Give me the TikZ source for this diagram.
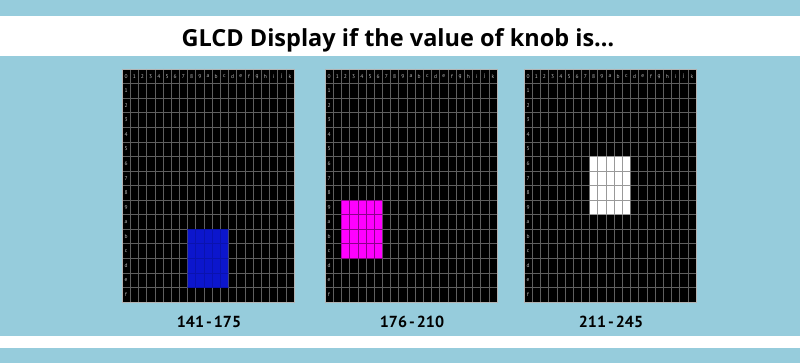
\documentclass[tikz,border=0pt]{standalone}
\usepackage{fontspec}
\setmainfont{PT Sans}
\newfontfamily\titlefont{Open Sans}
\newfontfamily\rangefont[WordSpace=0.5]{PT Sans}
\usetikzlibrary{positioning}

\definecolor{panelblue}{RGB}{150,204,220}
\definecolor{lcdblue}{RGB}{12,22,205}
\definecolor{lcdpink}{RGB}{255,0,255}
\definecolor{gridgray}{RGB}{95,95,95}
\definecolor{labelgray}{RGB}{185,185,185}

\begin{document}
\begin{tikzpicture}[x=1pt,y=-1pt,
  heading/.style={font=\titlefont\bfseries\fontsize{23.5}{27}\selectfont,anchor=base},
  knobrange/.style={font=\rangefont\bfseries\fontsize{16}{19}\selectfont,anchor=base},
  pixlabel/.style={font=\fontsize{5.5}{6}\selectfont,text=labelgray,inner sep=0pt},
  gridline/.style={gridgray,line width=0.5pt}]
  \useasboundingbox (0,0) rectangle (800,363);

  % background bands
  \fill[panelblue] (0,0) rectangle (800,363);
  \fill[white] (0,16) rectangle (800,56);
  \fill[white] (0,336) rectangle (800,348);

  \node[heading] (title) at (398,47) {GLCD Display if the value of knob is…};

  % three lcd screens: left x / block col / block row / colour / line colour / text / name
  \foreach \gx/\bc/\br/\bcol/\lcol/\txt/\nm in
    {122/8/11/lcdblue/lcdblue!85!black/141 - 175/low,
     325/2/9/lcdpink/lcdpink!55!black/176 - 210/mid,
     524/8/6/white/gray!80/211 - 245/high} {
    \begin{scope}[shift={(\gx,69)}]
      \fill[black] (0,0) rectangle (172,233);
      \foreach \i in {1,...,20}
        \draw[gridline] (\i*8.19,0) -- (\i*8.19,233);
      \foreach \j in {1,...,15}
        \draw[gridline] (0,\j*14.5625) -- (172,\j*14.5625);
      \fill[\bcol] (\bc*8.19,\br*14.5625) rectangle ++(5*8.19,4*14.5625);
      \begin{scope}
        \clip (\bc*8.19,\br*14.5625) rectangle ++(5*8.19,4*14.5625);
        \foreach \i in {1,...,20}
          \draw[\lcol,line width=0.5pt] (\i*8.19,0) -- (\i*8.19,233);
        \foreach \j in {1,...,15}
          \draw[\lcol,line width=0.5pt] (0,\j*14.5625) -- (172,\j*14.5625);
      \end{scope}
      \draw[gray!60,line width=0.8pt] (0,0) rectangle (172,233);
      % column and row numbers
      \foreach \c [count=\k from 0] in {0,1,2,3,4,5,6,7,8,9,a,b,c,d,e,f,g,h,i,j,k}
        \node[pixlabel] (\nm-col-\k) at ({(\k+0.5)*8.19},7.3) {\c};
      \foreach \r [count=\k from 1] in {1,2,3,4,5,6,7,8,9,a,b,c,d,e,f}
        \node[pixlabel] (\nm-row-\k) at (4.1,{(\k+0.5)*14.5625}) {\r};
    \end{scope}
    \node[knobrange] (\nm-range) at (\gx+87,327) {\txt};
  }
\end{tikzpicture}
\end{document}
